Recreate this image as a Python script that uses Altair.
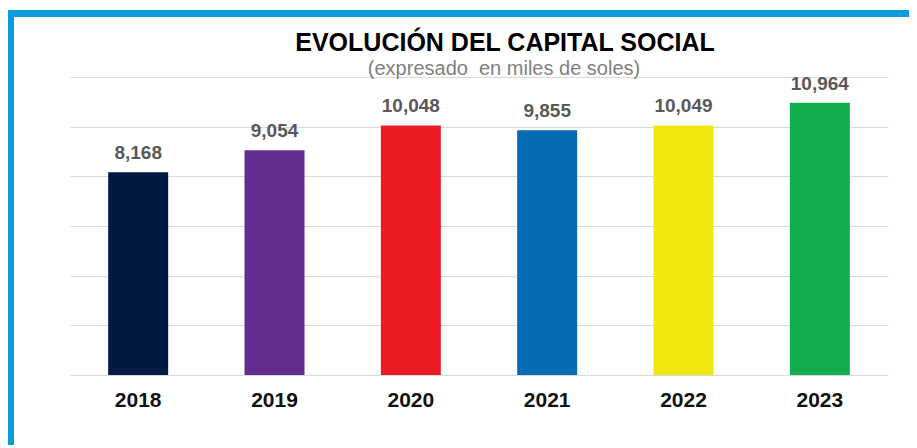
import altair as alt
import pandas as pd

years = ["2018", "2019", "2020", "2021", "2022", "2023"]
values = [8168, 9054, 10048, 9855, 10049, 10964]
colors = ["#021942", "#662D91", "#ED1C24", "#066BB5", "#F2E80F", "#12AD4E"]
y_ticks = [0, 2000, 4000, 6000, 8000, 10000, 12000]
title_text = "EVOLUCIÓN DEL CAPITAL SOCIAL"
subtitle_text = "(expresado\u00a0 en miles de soles)"

df = pd.DataFrame({"year": years, "value": values})
df["label"] = [f"{v:,}" for v in values]

FONT = "Liberation Sans"

x = alt.X("year:N", sort=years, title=None,
          scale=alt.Scale(paddingInner=0.56, paddingOuter=0.28),
          axis=alt.Axis(labelAngle=0, labelFont=FONT, labelFontSize=21,
                        labelFontWeight="bold", labelColor="#111111",
                        labelPadding=14, ticks=False, domain=False, grid=False))
y = alt.Y("value:Q", title=None,
          scale=alt.Scale(domain=[0, 12000], nice=False),
          axis=alt.Axis(values=y_ticks, labels=False, ticks=False, domain=False,
                        grid=True, gridColor="#d9d9d9", gridWidth=1))

base = alt.Chart(df)

bars = base.mark_bar(size=60).encode(
    x=x, y=y,
    color=alt.Color("year:N", scale=alt.Scale(domain=years, range=colors), legend=None),
)

labels = base.mark_text(dy=-13, baseline="alphabetic", font=FONT, fontSize=19,
                        fontWeight="bold", color="#595959").encode(
    x=alt.X("year:N", sort=years), y="value:Q", text="label:N")

one = alt.Data(values=[{"a": 1}])
top_band = alt.Chart(one).mark_rect(color="#0A9BDB").encode(
    x=alt.value(-62), x2=alt.value(860), y=alt.value(-67), y2=alt.value(-60))
left_band = alt.Chart(one).mark_rect(color="#0A9BDB").encode(
    x=alt.value(-62), x2=alt.value(-56), y=alt.value(-67), y2=alt.value(380))

title = alt.Chart(one).mark_text(font=FONT, fontSize=25, fontWeight="bold",
                                 color="#000000", align="center",
                                 baseline="alphabetic", text=title_text).encode(
    x=alt.value(435), y=alt.value(-26))
subtitle = alt.Chart(one).mark_text(font=FONT, fontSize=20, color="#7f7f7f",
                                    align="center", baseline="alphabetic",
                                    text=subtitle_text).encode(
    x=alt.value(434), y=alt.value(-2))

chart = alt.layer(bars, labels, top_band, left_band, title, subtitle).properties(
    width=818, height=298,
    autosize=alt.AutoSizeParams(type="none"),
    padding={"left": 62, "top": 69, "right": 21, "bottom": 70},
    background="white",
).configure_view(stroke=None, strokeWidth=0)

chart.save("out.html", embed_options={"renderer": "svg", "actions": False})
